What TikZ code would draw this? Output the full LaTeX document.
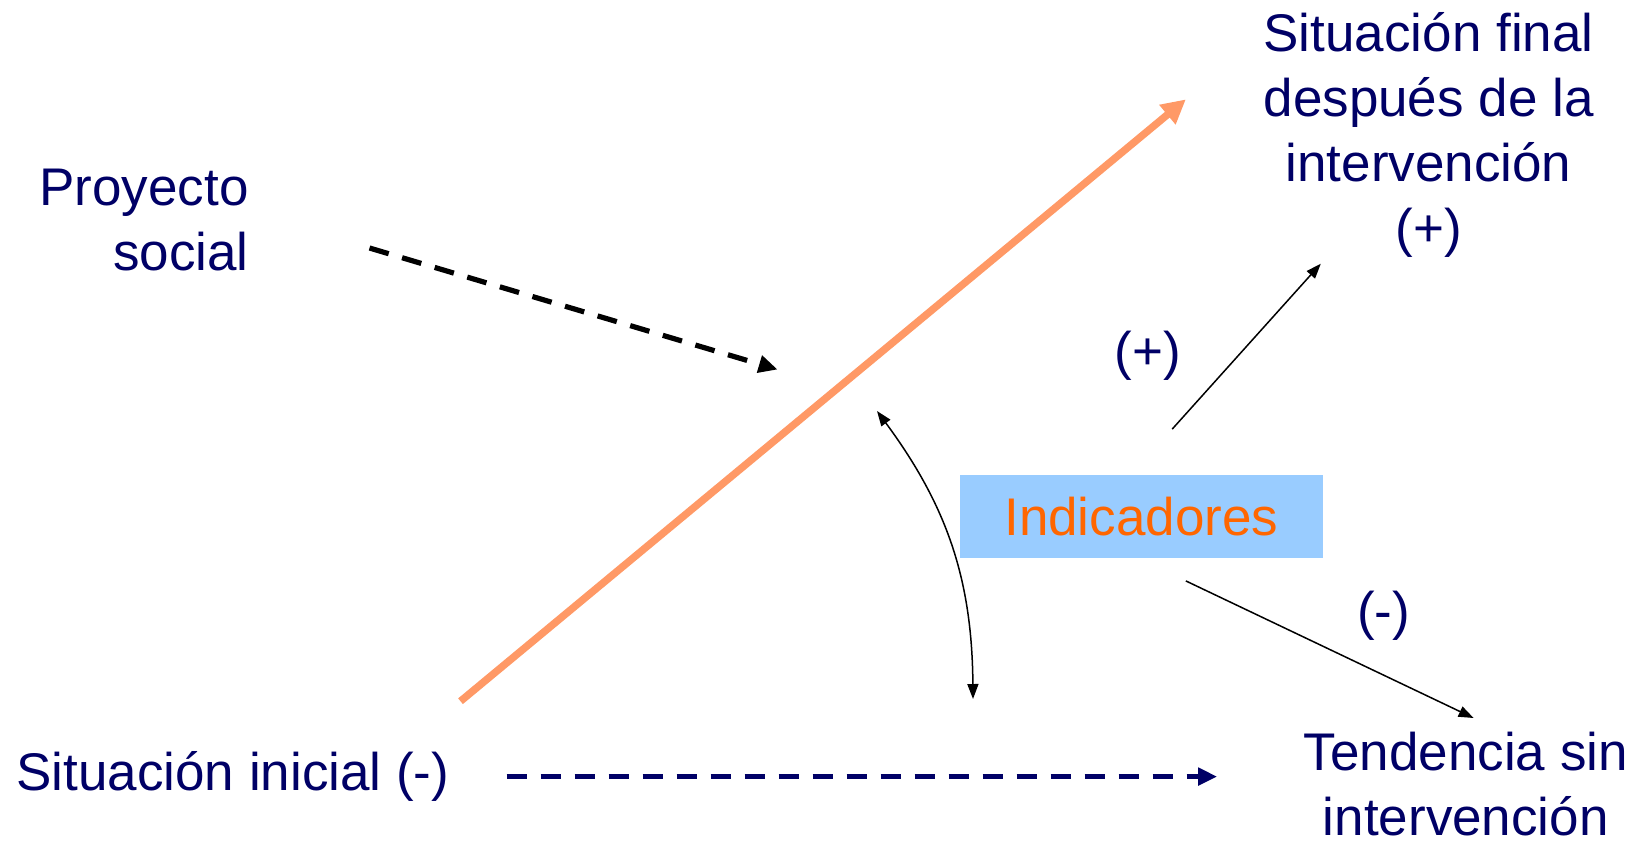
\documentclass[tikz,border=0pt]{standalone}
\usepackage{fontspec}
\setmainfont{Liberation Sans}
\usetikzlibrary{arrows.meta}
\definecolor{navy}{RGB}{0,0,102}
\definecolor{orangeline}{RGB}{255,153,102}
\definecolor{boxblue}{RGB}{153,204,255}
\definecolor{indorange}{RGB}{255,102,0}
\begin{document}
\begin{tikzpicture}[x=0.5pt,y=-0.5pt,
  lbl/.style={text=navy,font=\fontsize{26.5}{32.5}\selectfont,align=center,inner sep=0pt},
  thinarrow/.style={draw=black,line width=0.75pt,-{Triangle[length=7.5pt,width=5.5pt]}},
  dasharrow/.style={line width=2.6pt,dash pattern=on 10pt off 7pt,-{Triangle[length=9.5pt,width=8.5pt]}}]
\useasboundingbox (0,0) rectangle (1641,846);
% texts
\node[lbl,align=right,anchor=east] (proy) at (249,220) {Proyecto\\social};
\node[lbl] (final) at (1428.6,134.5) {Situación final\\después de la\\intervención\\(+)};
\node[lbl] (inicial) at (232.9,776.6) {Situación inicial (-)};
\node[lbl] (tend) at (1465.8,784) {Tendencia sin\\intervención};
\node[lbl] (plus) at (1148,355.8) {(+)};
\node[lbl] (minus) at (1383.6,615.4) {(-)};
\node[fill=boxblue,text=indorange,minimum width=363pt*0.5,minimum height=82.6pt*0.5,inner sep=0pt,font=\fontsize{26.5}{32.5}\selectfont] (ind) at (1141.3,516.5) {Indicadores};
% coordinates
\coordinate (oA) at (460.5,701.2);
\coordinate (oB) at (1185.8,99.4);
\coordinate (pA) at (369.5,248);
\coordinate (pB) at (777.6,369.5);
\coordinate (cA) at (877,411);
\coordinate (cB) at (973,699);
\coordinate (upA) at (1172.2,429.1);
\coordinate (upB) at (1320.8,263.7);
\coordinate (dnA) at (1185.8,580.9);
\coordinate (dnB) at (1473.6,718);
\coordinate (hA) at (506.6,776.6);
\coordinate (hB) at (1217.2,776.6);
% connectors
\draw[orangeline,line width=3.7pt,-{Triangle[length=12pt,width=12pt]}] (oA) -- (oB);
\draw[dasharrow,black] (pA) -- (pB);
\draw[dasharrow,navy] (hA) -- (hB);
\draw[line width=0.75pt,{Triangle[length=7.5pt,width=5.5pt]}-{Triangle[length=7.5pt,width=5.5pt]}] (cA) to[bend left=18] (cB);
\draw[thinarrow] (upA) -- (upB);
\draw[thinarrow] (dnA) -- (dnB);
\end{tikzpicture}
\end{document}
